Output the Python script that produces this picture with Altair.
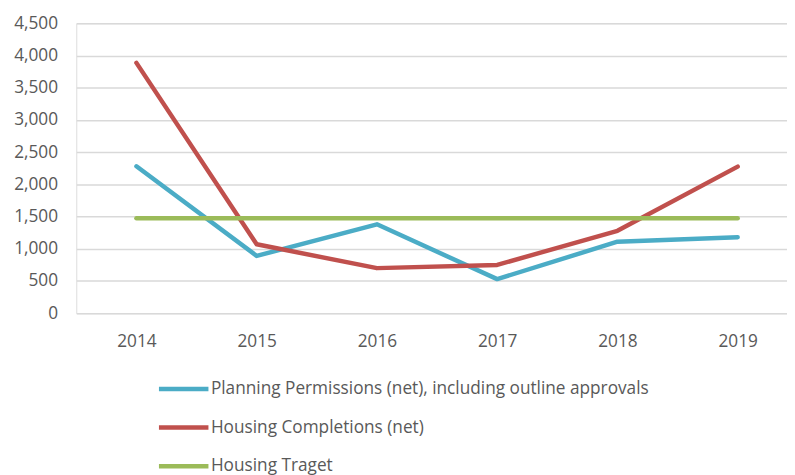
import altair as alt
import pandas as pd

years = [2014, 2015, 2016, 2017, 2018, 2019]
planning = [2280, 890, 1380, 530, 1110, 1180]
completions = [3885, 1070, 700, 750, 1280, 2275]
target = [1475, 1475, 1475, 1475, 1475, 1475]

series_names = [
    "Planning Permissions (net), including outline approvals",
    "Housing Completions (net)",
    "Housing Traget",
]
colors = ["#4BACC6", "#C0504D", "#9BBB59"]

rows = []
for name, vals in zip(series_names, [planning, completions, target]):
    for y, v in zip(years, vals):
        rows.append({"Year": y, "Value": v, "Series": name})
df = pd.DataFrame(rows)

font = "Open Sans"
fs = 17.4

chart = alt.Chart(df).mark_line(strokeWidth=4.5, strokeCap="round", strokeJoin="round").encode(
    x=alt.X("Year:Q",
            scale=alt.Scale(domain=[2013.5, 2019.41], nice=False, zero=False),
            axis=alt.Axis(values=years, format="d", title=None, grid=False, domain=False,
                          ticks=False, labelPadding=20, labelFontSize=fs, labelColor="#595959",
                          labelFont=font)),
    y=alt.Y("Value:Q",
            scale=alt.Scale(domain=[0, 4500], nice=False),
            axis=alt.Axis(values=list(range(0, 4501, 500)), format=",d", title=None,
                          domain=False, ticks=False, labelPadding=19, labelFontSize=fs,
                          labelColor="#595959", labelFont=font, gridColor="#d9d9d9",
                          gridWidth=1.5)),
    color=alt.Color("Series:N",
                    scale=alt.Scale(domain=series_names, range=colors),
                    sort=series_names,
                    legend=alt.Legend(title=None, orient="none", legendX=93.5, legendY=354.5,
                                      direction="vertical", symbolType="M-2,0H2",
                                      symbolSize=625, symbolStrokeWidth=4.5,
                                      labelOffset=12.5, rowPadding=15, padding=0,
                                      labelFontSize=fs, labelColor="#595959", labelFont=font,
                                      labelLimit=700)),
).properties(
    width=718, height=293,
    autosize=alt.AutoSizeParams(type="none"),
    padding={"left": 69, "top": 13, "right": 0, "bottom": 161},
).configure_view(stroke=None).configure(background="white")

chart.save("out.html", embed_options={"renderer": "svg", "actions": False})
